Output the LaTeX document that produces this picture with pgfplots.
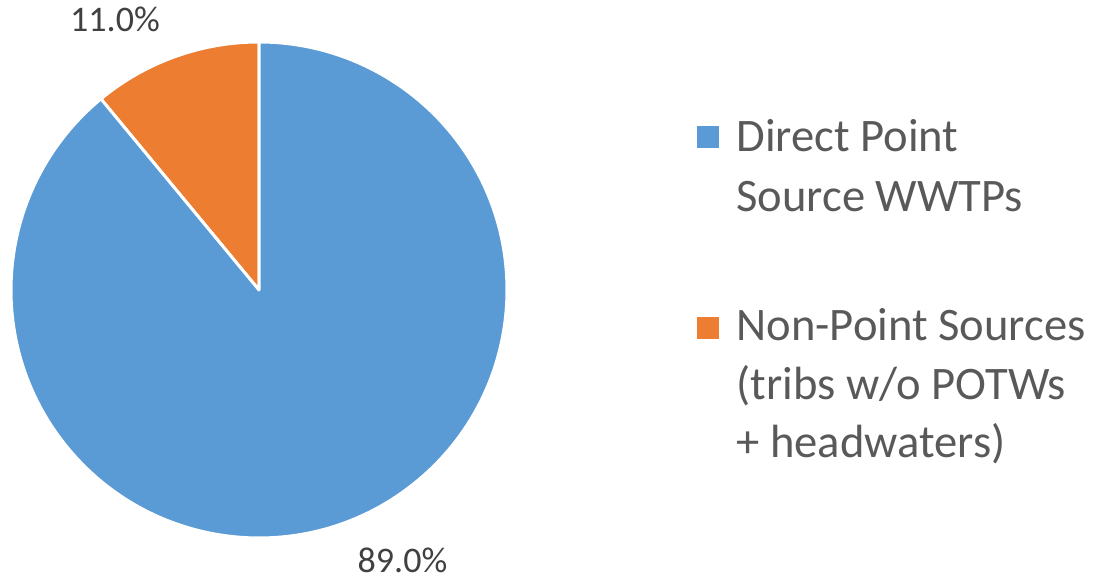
\documentclass[border=0pt]{standalone}
\usepackage{pgfplots}
\pgfplotsset{compat=1.18}
\usepackage{pgfplotstable}
\usepackage{fontspec}
\setmainfont{Carlito}
\definecolor{cblue}{HTML}{5B9BD5}
\definecolor{corange}{HTML}{ED7D31}
\definecolor{ctext}{HTML}{595959}
\definecolor{clab}{HTML}{404040}
\pgfplotstableread{
name value
direct 89.0
nonpoint 11.0
}\piedata
\begin{document}
\begin{tikzpicture}
\pgfplotstablegetelem{0}{value}\of\piedata \let\va\pgfplotsretval
\pgfplotstablegetelem{1}{value}\of\piedata \let\vb\pgfplotsretval
\pgfmathsetmacro{\ab}{90+3.6*\vb}
\begin{axis}[
  width=551pt, height=290.5pt, scale only axis,
  xmin=0, xmax=1102, ymin=0, ymax=581, y dir=reverse,
  hide axis, clip=false,
  /pgf/number format/assume math mode=true]
% orange slice: from 90 deg counterclockwise
\fill[corange, draw=white, line width=1.5pt, line join=round]
  (axis cs:259,290) -- ++(90:124pt) arc[start angle=90, end angle=\ab, radius=124pt] -- cycle;
\fill[cblue, draw=white, line width=1.5pt, line join=round]
  (axis cs:259,290) -- ++(\ab:124pt) arc[start angle=\ab, end angle=450, radius=124pt] -- cycle;
% data labels
\node[anchor=base, font=\fontsize{18}{21}\selectfont, text=clab, inner sep=0pt] at (axis cs:115,32) {\pgfmathprintnumber[fixed, fixed zerofill, precision=1]{\vb}\%};
\node[anchor=base, font=\fontsize{18}{21}\selectfont, text=clab, inner sep=0pt] at (axis cs:402.5,573) {\pgfmathprintnumber[fixed, fixed zerofill, precision=1]{\va}\%};
% legend
\fill[cblue] (axis cs:697,126) rectangle (axis cs:719,148);
\fill[corange] (axis cs:697,317) rectangle (axis cs:719,339);
\begin{scope}[every node/.style={anchor=base west, inner sep=0pt, text=ctext, font=\fontsize{23.3}{28}\selectfont}]
\node at (axis cs:736,151.7) {Direct Point};
\node at (axis cs:736,211.7) {Source WWTPs};
\node at (axis cs:736,341) {Non-Point Sources};
\node at (axis cs:736,399.5) {(tribs w/o POTWs};
\node at (axis cs:736,457.5) {+ headwaters)};
\end{scope}
\end{axis}
\pgfresetboundingbox
\path[use as bounding box] (current axis.south west) rectangle (current axis.north east);
\end{tikzpicture}
\end{document}
